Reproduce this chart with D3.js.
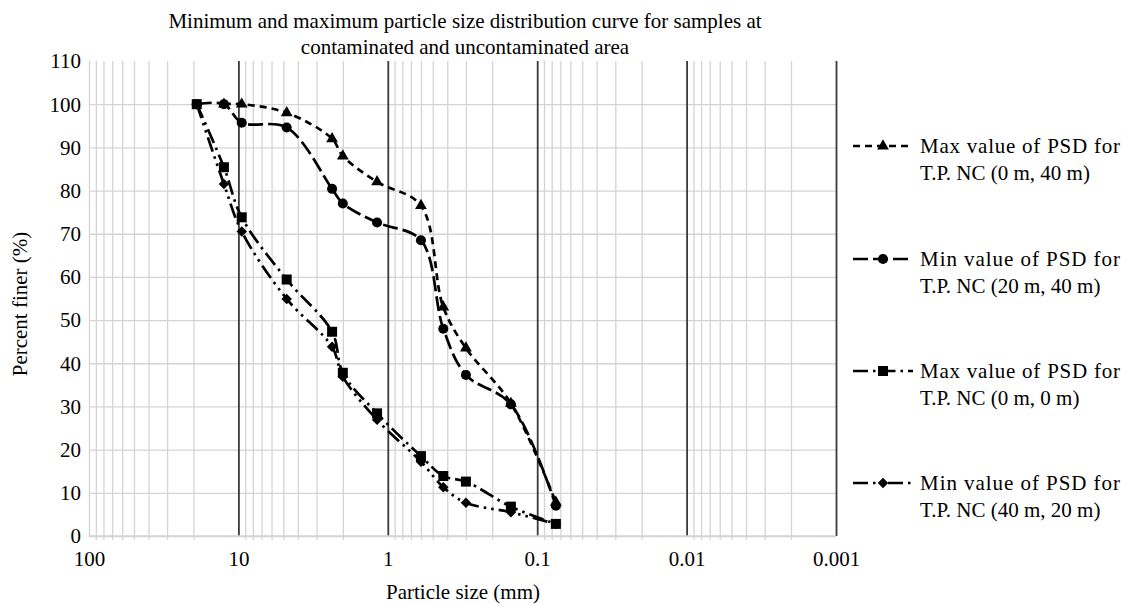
<!DOCTYPE html>
<meta charset="utf-8">
<script src="https://cdn.jsdelivr.net/npm/d3@7"></script>
<body style="margin:0;background:#fff">
<svg id="chart" width="1122" height="604"></svg>
</body>
<script>

// sieve sizes (mm)
var sizes = [19, 12.5, 9.5, 4.75, 2.36, 2.0, 1.18, 0.6, 0.425, 0.3, 0.15, 0.075];

// percent finer per sample (null = no point)
var maxNC_0_40  = [null, 100, 100, 98, 92, 88, 82, 76.5, 53, 43.5, 30.7, 7.8];
var minNC_20_40 = [100, 100, 95.7, 94.6, 80.4, 77, 72.6, 68.5, 48, 37.3, 30.5, 7];
var maxNC_0_0   = [100, 85.4, 73.8, 59.4, 47.3, 37.8, 28.4, 18.5, 13.9, 12.6, 6.8, 2.8];
var minNC_40_20 = [100, 81.5, 70.5, 54.9, 43.8, 36.9, 26.9, 17.2, 11.3, 7.7, 5.5, 2.8];

var xTicks = [100, 10, 1, 0.1, 0.01, 0.001];
var xTickLabels = ["100", "10", "1", "0.1", "0.01", "0.001"];
var yTicks = [0, 10, 20, 30, 40, 50, 60, 70, 80, 90, 100, 110];

var legendLine1 = ["Max value of PSD for", "Min value of PSD for", "Max value of PSD for", "Min value of PSD for"];
var legendLine2 = ["T.P. NC (0 m, 40 m)", "T.P. NC (20 m, 40 m)", "T.P. NC (0 m, 0 m)", "T.P. NC (40 m, 20 m)"];

var series = [
  {values: maxNC_0_40,  symbol: d3.symbolTriangle, size: 60, rot: 0,  dash: "7,5"},
  {values: minNC_20_40, symbol: d3.symbolCircle,   size: 80, rot: 0,  dash: "15,5"},
  {values: maxNC_0_0,   symbol: d3.symbolSquare,   size: 100, rot: 0, dash: "15,5,2.5,5"},
  {values: minNC_40_20, symbol: d3.symbolSquare,   size: 55, rot: 45, dash: "15,5,2.5,5,2.5,5"}
];

var font = "'Liberation Serif', 'Times New Roman', serif";
var fs = 21;
var svg = d3.select("#chart").style("font-family", font);

var plotLeft = 89, plotRight = 836, plotTop = 61, plotBottom = 536;

var x = d3.scaleLog().domain([100, 0.001]).range([plotLeft, plotRight]);
var y = d3.scaleLinear().domain([0, 110]).range([plotBottom, plotTop]);

// minor vertical grid
var minorVals = [];
[-3, -2, -1, 0, 1].forEach(function(k) {
  for (var m = 2; m <= 9; m++) minorVals.push(m * Math.pow(10, k));
});

var gMinor = svg.append("g")
  .attr("transform", "translate(0," + plotBottom + ")")
  .call(d3.axisBottom(x).tickValues(minorVals).tickSize(-(plotBottom - plotTop)).tickSizeOuter(0).tickFormat(""));
gMinor.select(".domain").remove();
gMinor.selectAll(".tick line").attr("stroke", "#d4d4d4").attr("stroke-width", 1.3)
  .attr("y1", 4);

// horizontal grid
var gY = svg.append("g")
  .attr("transform", "translate(" + plotLeft + ",0)")
  .call(d3.axisLeft(y).tickValues(yTicks).tickSize(-(plotRight - plotLeft)).tickSizeOuter(0).tickFormat(""));
gY.select(".domain").remove();
gY.selectAll(".tick line").attr("stroke", "#d4d4d4").attr("stroke-width", 1.3);
gY.selectAll(".tick").filter(function(d) { return d === 110; }).remove();

// y labels
svg.append("g").selectAll("text")
  .data(yTicks)
  .enter().append("text")
  .attr("x", 81)
  .attr("y", function(d) { return y(d); })
  .attr("dy", "0.35em")
  .attr("text-anchor", "end")
  .attr("font-size", fs)
  .text(function(d) { return d; });

// major decade lines + labels
var gMajor = svg.append("g")
  .attr("transform", "translate(0," + plotBottom + ")")
  .call(d3.axisBottom(x).tickValues(xTicks).tickSize(-(plotBottom - plotTop)).tickSizeOuter(0)
    .tickFormat(function(d, i) { return xTickLabels[i]; }));
gMajor.select(".domain").remove();
gMajor.selectAll(".tick line").attr("stroke", "#3a3a3a").attr("stroke-width", 1.8);
gMajor.selectAll(".tick").filter(function(d) { return d === 100; }).select("line")
  .attr("stroke", "#d4d4d4").attr("stroke-width", 1.3);
gMajor.selectAll(".tick text").attr("font-size", fs).attr("font-family", font).attr("fill", "#000")
  .attr("y", 30).attr("dy", null);

// bottom axis line
svg.append("line")
  .attr("x1", plotLeft).attr("x2", plotRight)
  .attr("y1", plotBottom).attr("y2", plotBottom)
  .attr("stroke", "#d4d4d4").attr("stroke-width", 1.5);

// curves
var line = d3.line()
  .x(function(d) { return x(d[0]); })
  .y(function(d) { return y(d[1]); })
  .curve(d3.curveCatmullRom.alpha(0.5));

series.forEach(function(s) {
  var pts = sizes.map(function(v, i) { return [v, s.values[i]]; })
    .filter(function(d) { return d[1] != null; });

  svg.append("path")
    .datum(pts)
    .attr("fill", "none")
    .attr("stroke", "#000")
    .attr("stroke-width", 2.7)
    .attr("stroke-dasharray", s.dash)
    .attr("d", line);

  svg.append("g").selectAll("path")
    .data(pts)
    .enter().append("path")
    .attr("transform", function(d) { return "translate(" + x(d[0]) + "," + y(d[1]) + ") rotate(" + s.rot + ")"; })
    .attr("d", d3.symbol().type(s.symbol).size(s.size))
    .attr("fill", "#000");
});

// legend
var legendY = [146, 259, 371, 483];
series.forEach(function(s, i) {
  var g = svg.append("g").attr("transform", "translate(0," + legendY[i] + ")");
  g.append("line")
    .attr("x1", 853).attr("x2", 913)
    .attr("y1", 0).attr("y2", 0)
    .attr("stroke", "#000").attr("stroke-width", 2.7)
    .attr("stroke-dasharray", s.dash);
  g.append("path")
    .attr("transform", "translate(883,0) rotate(" + s.rot + ")")
    .attr("d", d3.symbol().type(s.symbol).size(s.size))
    .attr("fill", "#000");
  g.append("text")
    .attr("x", 920).attr("y", 7)
    .attr("font-size", fs)
    .attr("textLength", 200)
    .attr("lengthAdjust", "spacing")
    .text(legendLine1[i]);
  g.append("text")
    .attr("x", 920).attr("y", 34)
    .attr("font-size", fs)
    .text(legendLine2[i]);
});

// titles
svg.append("text")
  .attr("x", 465).attr("y", 28)
  .attr("text-anchor", "middle")
  .attr("font-size", fs)
  .text("Minimum and maximum particle size distribution curve for samples at");
svg.append("text")
  .attr("x", 465).attr("y", 54)
  .attr("text-anchor", "middle")
  .attr("font-size", fs)
  .text("contaminated and uncontaminated area");

svg.append("text")
  .attr("x", 463).attr("y", 599)
  .attr("text-anchor", "middle")
  .attr("font-size", fs)
  .text("Particle size (mm)");

svg.append("text")
  .attr("transform", "translate(27,304) rotate(-90)")
  .attr("text-anchor", "middle")
  .attr("font-size", fs)
  .text("Percent finer (%)");

</script>
